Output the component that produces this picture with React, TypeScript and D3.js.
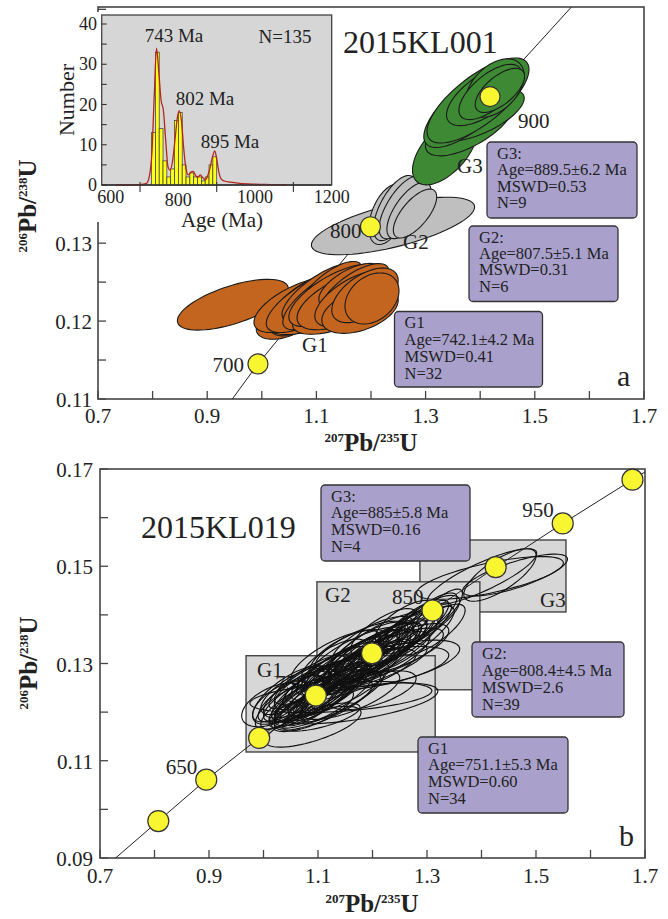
import React from 'react';
import * as d3 from 'd3';

const FONT = '"Liberation Serif", "Times New Roman", Times, serif';
const INK = '#222';

// ---------- panel a (2015KL001) ----------
const topConcordia = [[0.946, 0.110], [0.993, 0.1145], [1.199, 0.1321], [1.418, 0.1488], [1.567, 0.1603]];
const topAgeDots = [
  { age: '700', x: 0.993, y: 0.1145 },
  { age: '800', x: 1.199, y: 0.1321 },
  { age: '900', x: 1.418, y: 0.1488 },
];
// [207Pb/235U, 206Pb/238U, half width x, half height y, rho]
const topG1 = [
  [0.947, 0.1221, 0.1016, 0.00326, 0.63],
  [1.0425, 0.1199, 0.0526, 0.00223, 0.43],
  [1.0663, 0.1204, 0.0509, 0.0023, 0.54],
  [1.0883, 0.1212, 0.0782, 0.00294, 0.56],
  [1.070, 0.1221, 0.0844, 0.00357, 0.63],
  [1.0791, 0.1227, 0.0621, 0.00333, 0.73],
  [1.1066, 0.1221, 0.0548, 0.00301, 0.67],
  [1.0974, 0.1227, 0.0892, 0.00417, 0.72],
  [1.1066, 0.1237, 0.0696, 0.00371, 0.76],
  [1.1158, 0.123, 0.0773, 0.00413, 0.75],
  [1.1249, 0.124, 0.0592, 0.00365, 0.72],
  [1.1249, 0.1221, 0.0676, 0.00286, 0.63],
  [1.1432, 0.1214, 0.0868, 0.00309, 0.61],
  [1.1432, 0.1224, 0.0742, 0.00332, 0.69],
  [1.134, 0.1233, 0.0845, 0.004, 0.69],
  [1.1524, 0.1227, 0.0879, 0.00381, 0.6],
  [1.1615, 0.1246, 0.0571, 0.0028, 0.64],
  [1.1707, 0.124, 0.0623, 0.00338, 0.70],
  [1.1707, 0.1229, 0.0736, 0.00364, 0.62],
  [1.1799, 0.1214, 0.07, 0.00298, 0.43],
  [1.189, 0.1233, 0.0608, 0.0035, 0.54],
  [1.2018, 0.1229, 0.0495, 0.00328, 0.30],
];
const topG2 = [
  [1.2403, 0.1322, 0.1495, 0.00369, 0.66],
  [1.2311, 0.1337, 0.035, 0.00388, 0.46],
  [1.244, 0.1345, 0.0394, 0.00418, 0.63],
  [1.2568, 0.1346, 0.042, 0.00404, 0.67],
  [1.2696, 0.1342, 0.0405, 0.00362, 0.67],
  [1.2806, 0.1338, 0.0397, 0.00314, 0.68],
];
const topG3 = [
  [1.3355, 0.1419, 0.0595, 0.00442, 0.57],
  [1.381, 0.1451, 0.0813, 0.0039, 0.67],
  [1.3996, 0.1464, 0.081, 0.00333, 0.66],
  [1.378, 0.1473, 0.0813, 0.00503, 0.72],
  [1.396, 0.1483, 0.0934, 0.00546, 0.73],
  [1.409, 0.149, 0.0707, 0.00392, 0.65],
  [1.427, 0.1499, 0.0535, 0.00374, 0.43],
  [1.418, 0.1494, 0.057, 0.00355, 0.66],
  [1.436, 0.1496, 0.0452, 0.00283, 0.64],
];
const topBoxText = {
  G3: ['G3:', 'Age=889.5±6.2 Ma', 'MSWD=0.53', 'N=9'],
  G2: ['G2:', 'Age=807.5±5.1 Ma', 'MSWD=0.31', 'N=6'],
  G1: ['G1', 'Age=742.1±4.2 Ma', 'MSWD=0.41', 'N=32'],
};

// inset histogram
const binStarts = [730, 740, 750, 760, 770, 780, 790, 800, 810, 820, 830, 840, 850, 860, 870, 880, 890];
const binCounts = [13, 33, 14, 6, 2, 4, 16, 18, 5, 2, 3, 2, 2, 1, 2, 5, 7];
const densityCurve = [
  [637, 0], [700, 0.1], [717, 0.4], [725, 2.5], [731, 8], [737, 22], [743, 34], [749, 28], [755, 21],
  [761, 18.5], [767, 11], [773, 4.5], [778, 3.7], [785, 6], [791, 11], [797, 16.5], [802, 18.5],
  [808, 16], [814, 9], [820, 4], [826, 2.5], [833, 3.2], [839, 3.4], [846, 2.2], [852, 2], [857, 2.5],
  [864, 1.8], [870, 1.2], [876, 2.2], [882, 4], [889, 7], [895, 8.5], [900, 6.5], [905, 3.5],
  [911, 1.6], [920, 1], [935, 0.7], [960, 0.4], [1000, 0.2], [1040, 0.1], [1083, 0],
];
const insetXLabels = [600, 800, 1000, 1200];
const insetXTicks = [700, 900, 1100];
const insetYLabels = [0, 10, 20, 30, 40];

// ---------- panel b (2015KL019) ----------
const botConcordia = [
  [0.7286, 0.09], [0.807, 0.0976], [0.895, 0.1061], [0.992, 0.1147], [1.096, 0.1234], [1.199, 0.1321],
  [1.310, 0.1409], [1.426, 0.1498], [1.549, 0.1588], [1.677, 0.1678], [1.70, 0.1694],
];
const botAgeDots = [
  { age: '', x: 0.807, y: 0.0976 },
  { age: '650', x: 0.895, y: 0.1061 },
  { age: '', x: 0.992, y: 0.1147 },
  { age: '750', x: 1.096, y: 0.1234 },
  { age: '', x: 1.199, y: 0.1321 },
  { age: '850', x: 1.310, y: 0.1409 },
  { age: '', x: 1.426, y: 0.1498 },
  { age: '950', x: 1.549, y: 0.1588 },
  { age: '', x: 1.677, y: 0.1678 },
];
const botG1 = [
  [1.142, 0.1231, 0.167, 0.0032, 0.40],
  [1.091, 0.117, 0.088, 0.0042, 0.69],
  [1.106, 0.119, 0.071, 0.0029, 0.68],
  [1.02, 0.1215, 0.06, 0.0045, 0.5],
  [1.20, 0.1245, 0.08, 0.0040, 0.6],
  [1.10, 0.1230, 0.080, 0.0058, 0.80],
  [1.08, 0.1222, 0.070, 0.0054, 0.82],
  [1.12, 0.1245, 0.075, 0.0056, 0.78],
  [1.06, 0.1215, 0.065, 0.0050, 0.80],
  [1.09, 0.1240, 0.090, 0.0060, 0.80],
  [1.13, 0.1232, 0.085, 0.0055, 0.76],
  [1.05, 0.1228, 0.060, 0.0048, 0.75],
  [1.11, 0.1215, 0.090, 0.0052, 0.78],
  [1.07, 0.1238, 0.070, 0.0050, 0.70],
  [1.15, 0.1250, 0.080, 0.0052, 0.80],
  [1.04, 0.1210, 0.055, 0.0046, 0.70],
  [1.12, 0.1225, 0.100, 0.0058, 0.82],
  [1.08, 0.1250, 0.060, 0.0045, 0.72],
  [1.14, 0.1240, 0.070, 0.0060, 0.84],
  [1.09, 0.1205, 0.075, 0.0045, 0.70],
  [1.03, 0.1222, 0.050, 0.0042, 0.65],
  [1.10, 0.1258, 0.065, 0.0048, 0.78],
  [1.16, 0.1235, 0.090, 0.0050, 0.72],
  [1.06, 0.1245, 0.065, 0.0050, 0.74],
  [1.17, 0.1218, 0.150, 0.0042, 0.60],
  [1.09, 0.1228, 0.060, 0.0050, 0.84],
  [1.11, 0.1238, 0.055, 0.0048, 0.80],
  [1.07, 0.1225, 0.050, 0.0045, 0.78],
  [1.13, 0.1248, 0.060, 0.0055, 0.82],
  [1.05, 0.1235, 0.070, 0.0060, 0.70],
  [1.10, 0.1245, 0.085, 0.0065, 0.78],
  [1.12, 0.1238, 0.065, 0.0055, 0.85],
  [1.08, 0.1232, 0.060, 0.0052, 0.85],
  [1.14, 0.1255, 0.050, 0.0050, 0.84],
  [1.06, 0.1222, 0.050, 0.0045, 0.84],
  [1.10, 0.1220, 0.060, 0.0048, 0.84],
];
const botG2 = [
  [1.20, 0.1320, 0.090, 0.0065, 0.82],
  [1.18, 0.1310, 0.085, 0.0060, 0.80],
  [1.22, 0.1330, 0.080, 0.0062, 0.82],
  [1.16, 0.1300, 0.090, 0.0058, 0.80],
  [1.24, 0.1345, 0.075, 0.0060, 0.82],
  [1.19, 0.1330, 0.070, 0.0055, 0.78],
  [1.21, 0.1308, 0.095, 0.0058, 0.78],
  [1.14, 0.1290, 0.080, 0.0055, 0.80],
  [1.26, 0.1360, 0.070, 0.0058, 0.82],
  [1.17, 0.1285, 0.080, 0.0050, 0.75],
  [1.23, 0.1318, 0.100, 0.0055, 0.76],
  [1.20, 0.1345, 0.075, 0.0052, 0.74],
  [1.12, 0.1280, 0.070, 0.0055, 0.82],
  [1.28, 0.1375, 0.060, 0.0055, 0.84],
  [1.15, 0.1320, 0.065, 0.0048, 0.70],
  [1.25, 0.1330, 0.090, 0.0052, 0.72],
  [1.10, 0.1268, 0.080, 0.0052, 0.80],
  [1.19, 0.1292, 0.110, 0.0050, 0.75],
  [1.27, 0.1350, 0.080, 0.0068, 0.85],
  [1.22, 0.1365, 0.060, 0.0048, 0.74],
  [1.30, 0.1395, 0.055, 0.0050, 0.80],
  [1.13, 0.1305, 0.060, 0.0045, 0.70],
  [1.31, 0.1370, 0.060, 0.0052, 0.76],
  [1.16, 0.1275, 0.120, 0.0055, 0.78],
  [1.24, 0.1300, 0.120, 0.0048, 0.62],
  [1.08, 0.1262, 0.070, 0.0055, 0.84],
  [1.21, 0.1290, 0.130, 0.0045, 0.60],
  [1.29, 0.1385, 0.070, 0.0055, 0.78],
  [1.18, 0.1335, 0.085, 0.0052, 0.74],
  [1.32, 0.1405, 0.045, 0.0048, 0.80],
  [1.26, 0.1385, 0.055, 0.0045, 0.70],
  [1.17, 0.1305, 0.100, 0.0070, 0.72],
  [1.22, 0.1335, 0.100, 0.0072, 0.74],
  [1.19, 0.1318, 0.060, 0.0050, 0.80],
  [1.21, 0.1325, 0.065, 0.0058, 0.84],
  [1.15, 0.1295, 0.070, 0.0060, 0.86],
  [1.25, 0.1352, 0.065, 0.0058, 0.84],
  [1.18, 0.1300, 0.060, 0.0045, 0.72],
  [1.23, 0.1340, 0.055, 0.0045, 0.74],
  [1.14, 0.1310, 0.090, 0.0060, 0.70],
  [1.20, 0.1300, 0.070, 0.0050, 0.82],
  [1.18, 0.1315, 0.070, 0.0055, 0.85],
  [1.22, 0.1328, 0.070, 0.0055, 0.85],
  [1.24, 0.1338, 0.060, 0.0050, 0.85],
  [1.16, 0.1290, 0.065, 0.0050, 0.84],
  [1.26, 0.1370, 0.050, 0.0050, 0.86],
  [1.20, 0.1310, 0.080, 0.0060, 0.86],
  [1.28, 0.1365, 0.065, 0.0060, 0.86],
  [1.13, 0.1285, 0.060, 0.0050, 0.84],
];
const botG3 = [
  [1.4156, 0.1476, 0.1347, 0.0044, 0.70],
  [1.4009, 0.1478, 0.1004, 0.0058, 0.84],
  [1.4339, 0.1482, 0.0664, 0.0054, 0.74],
  [1.4615, 0.1482, 0.0963, 0.0043, 0.76],
];
// group windows [x0, x1, y0, y1], drawn G3, G2, G1
const botRegions = [
  { name: 'G3', box: [1.287, 1.555, 0.1406, 0.1554] },
  { name: 'G2', box: [1.098, 1.397, 0.1246, 0.1468] },
  { name: 'G1', box: [0.968, 1.315, 0.1118, 0.1316] },
];
const botBoxText = {
  G3: ['G3:', 'Age=885±5.8 Ma', 'MSWD=0.16', 'N=4'],
  G2: ['G2:', 'Age=808.4±4.5 Ma', 'MSWD=2.6', 'N=39'],
  G1: ['G1', 'Age=751.1±5.3 Ma', 'MSWD=0.60', 'N=34'],
};

function ellipsePath(e, x, y) {
  const [cx, cy, sx, sy, r] = e;
  const k = Math.sqrt(1 - r * r);
  const pts = d3.range(72).map((i) => {
    const t = (i / 72) * Math.PI * 2;
    return [x(cx + sx * Math.cos(t)), y(cy + sy * (r * Math.cos(t) + k * Math.sin(t)))];
  });
  return d3.line().curve(d3.curveLinearClosed)(pts);
}

function Ellipses({ data, x, y, fill, stroke, sw }) {
  return (
    <g>
      {data.map((e, i) => (
        <path key={i} d={ellipsePath(e, x, y)} fill={fill} stroke={stroke} strokeWidth={sw} />
      ))}
    </g>
  );
}

function IsoTitle({ x, y, top, bottom, vertical }) {
  return (
    <text transform={`translate(${x},${y})${vertical ? ' rotate(-90)' : ''}`} textAnchor="middle"
      fontFamily={FONT} fontWeight="bold" fill={INK}>
      <tspan fontSize={13} dy={-9}>{top}</tspan>
      <tspan fontSize={25} dy={9}>Pb/</tspan>
      <tspan fontSize={13} dy={-9}>{bottom}</tspan>
      <tspan fontSize={25} dy={9}>U</tspan>
    </text>
  );
}

function InfoBox({ x, y, w, h, lines, lh }) {
  return (
    <g>
      <rect x={x} y={y} width={w} height={h} rx={4} fill="#a9a1cc" stroke="#333" strokeWidth={1.3} />
      <text fontFamily={FONT} fontSize={16.5} fill={INK}>
        {lines.map((t, i) => (
          <tspan key={i} x={x + 10} y={y + 16.5 + i * lh}>{t}</tspan>
        ))}
      </text>
    </g>
  );
}

function Frame({ x, y, xTicks, yTicks, xLabels, yLabels, xFmt, yFmt, labelX, labelY }) {
  const [x0, x1] = x.range();
  const [y0, y1] = y.range();
  return (
    <g>
      <rect x={x0} y={y1} width={x1 - x0} height={y0 - y1} fill="none" stroke="#444" strokeWidth={1.6} />
      {xTicks.map((t) => (
        <line key={'xt' + t} x1={x(t)} x2={x(t)} y1={y0} y2={y0 - 8} stroke="#444" strokeWidth={1.3} />
      ))}
      {yTicks.map((t) => (
        <line key={'yt' + t} x1={x0} x2={x0 + 8} y1={y(t)} y2={y(t)} stroke="#444" strokeWidth={1.3} />
      ))}
      {xLabels.map((t) => (
        <text key={'xl' + t} x={x(t)} y={labelX} textAnchor="middle" fontFamily={FONT} fontSize={21} fill={INK}>
          {xFmt(t)}
        </text>
      ))}
      {yLabels.map((t) => (
        <text key={'yl' + t} x={labelY} y={y(t) + 8} textAnchor="end" fontFamily={FONT} fontSize={21} fill={INK}>
          {yFmt(t)}
        </text>
      ))}
    </g>
  );
}

function Dots({ data, x, y, r }) {
  return (
    <g>
      {data.map((d, i) => (
        <circle key={i} cx={x(d.x)} cy={y(d.y)} r={r} fill="#f8f531" stroke="#333" strokeWidth={1.2} />
      ))}
    </g>
  );
}

export default function App() {
  const fx = d3.format('.1f');
  const fy = d3.format('.2f');
  const xTicks = d3.range(7, 18).map((v) => v / 10);
  const xLabels = [0.7, 0.9, 1.1, 1.3, 1.5, 1.7];

  // panel a
  const xA = d3.scaleLinear().domain([0.7, 1.7]).range([98, 644]);
  const yA = d3.scaleLinear().domain([0.11, 0.1603]).range([399, 7]);
  const yTicksA = d3.range(0, 11).map((i) => 0.11 + i * 0.005);
  const lineA = d3.line().x((d) => xA(d[0])).y((d) => yA(d[1]));

  // inset
  const xI = d3.scaleLinear().domain([600, 1200]).range([101.7, 331.7]);
  const yI = d3.scaleLinear().domain([0, 40]).range([185, 24]);
  const curve = d3.line().x((d) => xI(d[0])).y((d) => yI(d[1])).curve(d3.curveMonotoneX);

  // panel b
  const xB = d3.scaleLinear().domain([0.7, 1.7]).range([100, 645]);
  const yB = d3.scaleLinear().domain([0.09, 0.17]).range([858, 469]);
  const yTicksB = d3.range(9, 18).map((v) => v / 100);
  const lineB = d3.line().x((d) => xB(d[0])).y((d) => yB(d[1]));

  return (
    <svg width={668} height={919} style={{ position: 'absolute', left: 0, top: 0, background: '#fff' }}>
      <rect width={668} height={919} fill="#fff" />

      {/* ---------- panel a ---------- */}
      <Frame x={xA} y={yA} xTicks={xTicks} yTicks={yTicksA} xLabels={xLabels} yLabels={[0.11, 0.12, 0.13]}
        xFmt={fx} yFmt={fy} labelX={423} labelY={92} />
      <path d={lineA(topConcordia)} fill="none" stroke="#222" strokeWidth={1} />
      <Ellipses data={topG1} x={xA} y={yA} fill="#c4651f" stroke="#1a1a1a" sw={1.1} />
      <Ellipses data={topG2} x={xA} y={yA} fill="#bfbfbf" stroke="#1a1a1a" sw={1.1} />
      <Ellipses data={topG3} x={xA} y={yA} fill="#3e8a34" stroke="#1a1a1a" sw={1.1} />
      <Dots data={topAgeDots} x={xA} y={yA} r={10} />
      <g fontFamily={FONT} fontSize={21} fill={INK}>
        <text x={xA(topAgeDots[0].x) - 14} y={yA(topAgeDots[0].y) + 8} textAnchor="end">{topAgeDots[0].age}</text>
        <text x={xA(topAgeDots[1].x) - 9} y={yA(topAgeDots[1].y) + 11} textAnchor="end">{topAgeDots[1].age}</text>
        <text x={xA(topAgeDots[2].x) + 28} y={yA(topAgeDots[2].y) + 31}>{topAgeDots[2].age}</text>
        <text x={302} y={352}>G1</text>
        <text x={403} y={249}>G2</text>
        <text x={457} y={173}>G3</text>
        <text x={343} y={53} fontSize={32}>2015KL001</text>
        <text x={617} y={386} fontSize={30}>a</text>
      </g>
      <InfoBox x={487} y={142} w={150} h={76} lines={topBoxText.G3} lh={16.6} />
      <InfoBox x={469} y={226} w={149} h={75.5} lines={topBoxText.G2} lh={16.4} />
      <InfoBox x={394.5} y={311.5} w={148} h={75.5} lines={topBoxText.G1} lh={17} />
      <IsoTitle x={371} y={451} top="207" bottom="235" />
      <IsoTitle x={36} y={206} top="206" bottom="238" vertical />

      {/* inset histogram */}
      <rect x={48} y={12} width={292} height={210} fill="#fff" />
      <rect x={xI(600)} y={15} width={xI(1200) - xI(600)} height={yI(0) - 15} fill="#d6d6d6" stroke="#444" strokeWidth={1.3} />
      {binStarts.map((b, i) => (
        <rect key={b} x={xI(b)} y={yI(binCounts[i])} width={xI(b + 10) - xI(b)} height={yI(0) - yI(binCounts[i])}
          fill="#ffff1a" stroke="#333" strokeWidth={0.7} />
      ))}
      <path d={curve(densityCurve)} fill="none" stroke="#b3261e" strokeWidth={1.3} />
      <line x1={xI(600)} x2={xI(1200)} y1={yI(0)} y2={yI(0)} stroke="#333" strokeWidth={1.4} />
      {d3.range(0, 45, 5).map((t) => (
        <line key={t} x1={xI(600)} x2={xI(600) + 5} y1={yI(t)} y2={yI(t)} stroke="#333" strokeWidth={1.1} />
      ))}
      {insetXTicks.map((t) => (
        <line key={t} x1={xI(t)} x2={xI(t)} y1={yI(0) - 3} y2={yI(0) + 7} stroke="#333" strokeWidth={1.1} />
      ))}
      <g fontFamily={FONT} fill={INK}>
        {insetYLabels.map((t) => (
          <text key={t} x={97} y={yI(t) + 6} textAnchor="end" fontSize={18}>{t}</text>
        ))}
        {insetXLabels.map((t) => (
          <text key={t} x={t === 600 ? xI(t) + 9 : xI(t)} y={t === 800 ? 206 : 203} textAnchor="middle" fontSize={18}>{t}</text>
        ))}
        <text transform="translate(74,100) rotate(-90)" textAnchor="middle" fontSize={22}>Number</text>
        <text x={222} y={227} textAnchor="middle" fontSize={21}>Age (Ma)</text>
        <text x={174} y={42} textAnchor="middle" fontSize={19}>743 Ma</text>
        <text x={205} y={105} textAnchor="middle" fontSize={19}>802 Ma</text>
        <text x={230} y={148} textAnchor="middle" fontSize={19}>895 Ma</text>
        <text x={285} y={43} textAnchor="middle" fontSize={19}>N=135</text>
      </g>

      {/* ---------- panel b ---------- */}
      <Frame x={xB} y={yB} xTicks={xTicks} yTicks={yTicksB} xLabels={xLabels} yLabels={[0.09, 0.11, 0.13, 0.15, 0.17]}
        xFmt={fx} yFmt={fy} labelX={883} labelY={93} />
      {botRegions.map((g) => {
        const [x0, x1, y0, y1] = g.box;
        return (
          <rect key={g.name} x={xB(x0)} y={yB(y1)} width={xB(x1) - xB(x0)} height={yB(y0) - yB(y1)}
            fill="#d7d7d7" stroke="#444" strokeWidth={1.4} />
        );
      })}
      <g fontFamily={FONT} fontSize={21} fill={INK}>
        <text x={257} y={677}>G1</text>
        <text x={325} y={602}>G2</text>
        <text x={540} y={607}>G3</text>
        {botAgeDots.filter((d) => d.age).map((d) => (
          <text key={d.age} x={xB(d.x) - 9} y={yB(d.y) - 6} textAnchor="end">{d.age}</text>
        ))}
        <text x={141} y={538} fontSize={32}>2015KL019</text>
        <text x={619} y={846} fontSize={30}>b</text>
      </g>
      <Ellipses data={botG1} x={xB} y={yB} fill="none" stroke="#111" sw={1.15} />
      <Ellipses data={botG2} x={xB} y={yB} fill="none" stroke="#111" sw={1.15} />
      <Ellipses data={botG3} x={xB} y={yB} fill="none" stroke="#111" sw={1.1} />
      <path d={lineB(botConcordia)} fill="none" stroke="#222" strokeWidth={1} />
      <Dots data={botAgeDots} x={xB} y={yB} r={10.5} />
      <InfoBox x={321} y={485} w={149} h={76} lines={botBoxText.G3} lh={16.8} />
      <InfoBox x={472} y={642} w={152} h={75} lines={botBoxText.G2} lh={17} />
      <InfoBox x={418} y={737} w={150} h={76} lines={botBoxText.G1} lh={16.8} />
      <IsoTitle x={372} y={912} top="207" bottom="235" />
      <IsoTitle x={37} y={663} top="206" bottom="238" vertical />
    </svg>
  );
}
